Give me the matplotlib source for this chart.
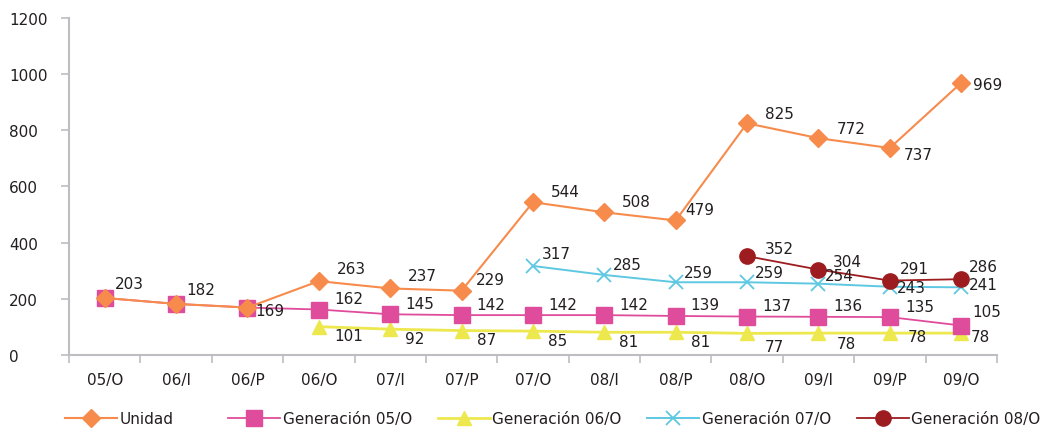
import matplotlib
matplotlib.use("Agg")
from matplotlib import pyplot as plt

"""--------------------------------- Data ---------------------------------"""

periods = ['05/O', '06/I', '06/P', '06/O', '07/I', '07/P', '07/O',
           '08/I', '08/P', '08/O', '09/I', '09/P', '09/O']

unidad = [203, 182, 169, 263, 237, 229, 544, 508, 479, 825, 772, 737, 969]
gen_05 = [203, 182, 169, 162, 145, 142, 142, 142, 139, 137, 136, 135, 105]
gen_06 = [101, 92, 87, 85, 81, 81, 77, 78, 78, 78]
gen_07 = [317, 285, 259, 259, 254, 243, 241]
gen_08 = [352, 304, 265, 270]
gen_08_labels = [352, 304, 291, 286]

"""------------------------------- Plotting -------------------------------"""

plt.rcParams['font.family'] = ['DejaVu Sans']
text_col = '#231f20'
axis_col = '#bdbec2'
fs = 11

fig = plt.figure(figsize=(10.52, 4.31), dpi=100)
ax = fig.add_axes([0.0656, 0.174, 0.882, 0.782])

x_all = list(range(len(periods)))
x_06 = x_all[3:]
x_07 = x_all[6:]
x_08 = x_all[9:]

series = [
    ('Unidad', x_all, unidad, '#f68b4c', 'D', 9, 1.5, 5),
    ('Generación 05/O', x_all, gen_05, '#e04c9c', 's', 11, 1.3, 3),
    ('Generación 06/O', x_06, gen_06, '#ede84e', '^', 10, 2.0, 2),
    ('Generación 07/O', x_07, gen_07, '#5ec8e2', 'x', 10, 1.4, 4),
    ('Generación 08/O', x_08, gen_08, '#9d1c20', 'o', 11, 1.3, 4),
]

handles = []
for name, xs, ys, col, mk, ms, lw, z in series:
    if mk == 'x':
        h, = ax.plot(xs, ys, color=col, lw=lw, marker=mk, ms=ms,
                     mew=1.3, label=name, zorder=z)
    else:
        h, = ax.plot(xs, ys, color=col, lw=lw, marker=mk, ms=ms,
                     mec=col, label=name, zorder=z)
    handles.append(h)

# data labels (offsets in pixels)
def put_labels(xs, ys, labels, offs):
    for xi, yi, lab, (dx, dy) in zip(xs, ys, labels, offs):
        ax.annotate(str(lab), (xi, yi), xytext=(dx, dy),
                    textcoords='offset pixels', ha='left', va='center',
                    fontsize=fs, color=text_col, zorder=10)

off_u = [(10, 14)] * 3 + [(18, 13)] * 3 + [(18, 11), (18, 11), (10, 11),
                                          (18, 10), (18, 10), (14, -6), (12, -2)]
off_u[2] = (8, -3)
off_u[5] = (14, 11)
put_labels(x_all, unidad, unidad, off_u)
put_labels(x_all[3:], gen_05[3:], gen_05[3:], [(15, 11)] * 9 + [(11, 14)])
off_06 = [(15, -9)] * 6 + [(18, -13), (18, -10), (18, -3), (10, -3)]
put_labels(x_06, gen_06, gen_06, off_06)
off_07 = [(9, 12), (9, 10), (8, 10), (8, 10), (6, 8), (7, -1), (8, 3)]
put_labels(x_07, gen_07, gen_07, off_07)
put_labels(x_08, gen_08, gen_08_labels, [(18, 8), (14, 8), (10, 12), (8, 13)])

# axes styling
ax.set_xlim(-0.5, len(periods) - 0.5)
ax.set_ylim(0, 1200)
ax.set_yticks(range(0, 1201, 200))
ax.set_xticks(x_all)
ax.set_xticklabels(periods)
ax.set_xticks([i - 0.5 for i in range(len(periods) + 1)], minor=True)
ax.tick_params(axis='x', which='major', length=0, pad=12,
               labelsize=fs, labelcolor=text_col)
ax.tick_params(axis='x', which='minor', length=6, width=1.2,
               color=axis_col, direction='out')
ax.tick_params(axis='y', length=6, width=1.2, color=axis_col, pad=37,
               labelsize=fs, labelcolor=text_col)
for lab in ax.get_yticklabels():
    lab.set_horizontalalignment('left')

for side in ['top', 'right']:
    ax.spines[side].set_visible(False)
for side in ['left', 'bottom']:
    ax.spines[side].set_color(axis_col)
    ax.spines[side].set_linewidth(1.5)

leg_kw = dict(frameon=False, fontsize=fs, handlelength=3.4,
              handletextpad=0.15, borderpad=0, borderaxespad=0,
              labelcolor=text_col)
leg1 = fig.legend(handles=handles[:1], loc='center left',
                  bbox_to_anchor=(0.062, 0.026), **leg_kw)
leg2 = fig.legend(handles=handles[1:], loc='center left',
                  bbox_to_anchor=(0.217, 0.026), ncol=4,
                  columnspacing=1.7, **leg_kw)

fig.savefig('out.png', dpi=100)
